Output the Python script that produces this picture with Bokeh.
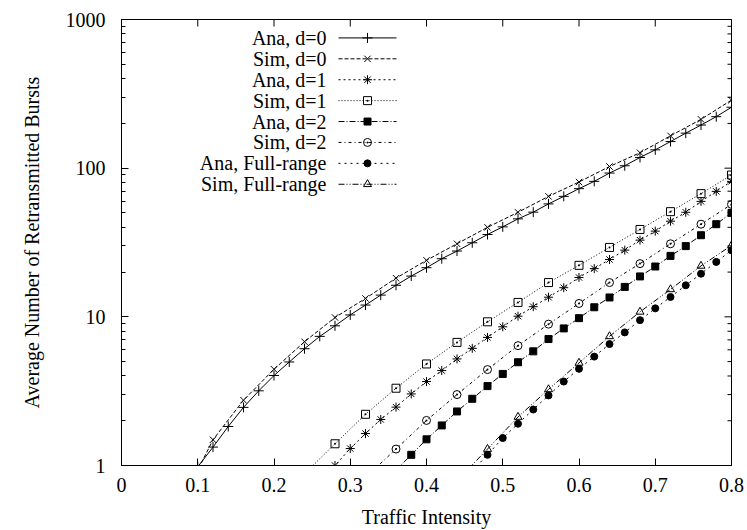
import math

from bokeh.core.properties import value
from bokeh.embed import file_html
from bokeh.models import FixedTicker, LogTicker, Range1d
from bokeh.plotting import figure
from bokeh.resources import INLINE

# ---- data: average number of retransmitted bursts vs traffic intensity ----
x_ana_d0 = [0.10, 0.12, 0.14, 0.16, 0.18, 0.20, 0.22, 0.24, 0.26, 0.28, 0.30, 0.32,
            0.34, 0.36, 0.38, 0.40, 0.42, 0.44, 0.46, 0.48, 0.50, 0.52, 0.54, 0.56,
            0.58, 0.60, 0.62, 0.64, 0.66, 0.68, 0.70, 0.72, 0.74, 0.76, 0.78, 0.80]
y_ana_d0 = [0.98, 1.33, 1.83, 2.46, 3.18, 4.03, 4.97, 6.1, 7.39, 8.7, 10.3, 12.0,
            14.0, 16.3, 18.8, 21.4, 24.6, 27.7, 31.5, 35.8, 40.3, 45.6, 50.6, 57.5,
            64.6, 72.8, 81.5, 92.7, 103.8, 118, 132.8, 151, 172, 195, 222, 257]

x_sim_d0 = [0.08, 0.12, 0.16, 0.20, 0.24, 0.28, 0.32, 0.36, 0.40, 0.44, 0.48, 0.52,
            0.56, 0.60, 0.64, 0.68, 0.72, 0.76, 0.80]
y_sim_d0 = [0.58, 1.49, 2.75, 4.44, 6.8, 9.9, 13.3, 18.2, 24.0, 31.0, 40.0, 50.5,
            64.6, 80.7, 102.6, 127, 165, 213, 287]

x_ana_d1 = [0.26, 0.28, 0.30, 0.32, 0.34, 0.36, 0.38, 0.40, 0.42, 0.44, 0.46, 0.48,
            0.50, 0.52, 0.54, 0.56, 0.58, 0.60, 0.62, 0.64, 0.66, 0.68, 0.70, 0.72,
            0.74, 0.76, 0.78, 0.80]
y_ana_d1 = [0.78, 1.0, 1.30, 1.64, 2.04, 2.47, 3.03, 3.67, 4.35, 5.21, 6.14, 7.27,
            8.57, 10.1, 11.7, 13.55, 15.7, 18.4, 21.1, 24.3, 28.1, 32.8, 37.7, 44.0,
            50.5, 59.8, 69.8, 81.5]

x_sim_d1 = [0.24, 0.28, 0.32, 0.36, 0.40, 0.44, 0.48, 0.52, 0.56, 0.60, 0.64, 0.68,
            0.72, 0.76, 0.80]
y_sim_d1 = [0.88, 1.40, 2.21, 3.31, 4.82, 6.73, 9.26, 12.5, 17.0, 22.2, 29.3, 38.7,
            51.0, 67.4, 89.9]

x_ana_d2 = [0.36, 0.38, 0.40, 0.42, 0.44, 0.46, 0.48, 0.50, 0.52, 0.54, 0.56, 0.58,
            0.60, 0.62, 0.64, 0.66, 0.68, 0.70, 0.72, 0.74, 0.76, 0.78, 0.80]
y_ana_d2 = [0.93, 1.18, 1.50, 1.86, 2.31, 2.81, 3.42, 4.13, 4.95, 5.86, 7.09, 8.36,
            9.8, 11.6, 13.5, 15.9, 18.7, 21.8, 25.7, 29.9, 35.4, 42.0, 50.0]

x_sim_d2 = [0.32, 0.36, 0.40, 0.44, 0.48, 0.52, 0.56, 0.60, 0.64, 0.68, 0.72, 0.76, 0.80]
y_sim_d2 = [0.83, 1.29, 2.01, 3.0, 4.42, 6.4, 8.93, 12.3, 17.0, 22.8, 31.0, 42.0, 57.1]

x_ana_full = [0.46, 0.48, 0.50, 0.52, 0.54, 0.56, 0.58, 0.60, 0.62, 0.64, 0.66, 0.68,
              0.70, 0.72, 0.74, 0.76, 0.78, 0.80]
y_ana_full = [0.92, 1.18, 1.53, 1.91, 2.38, 2.96, 3.67, 4.47, 5.40, 6.56, 7.86, 9.5,
              11.4, 13.6, 16.3, 19.5, 23.4, 28.0]

x_sim_full = [0.44, 0.48, 0.52, 0.56, 0.60, 0.64, 0.68, 0.72, 0.76, 0.80]
y_sim_full = [0.79, 1.29, 2.12, 3.25, 4.9, 7.39, 10.8, 15.3, 22.0, 30.2]

x_ticks = [0, 0.1, 0.2, 0.3, 0.4, 0.5, 0.6, 0.7, 0.8]
x_tick_labels = ["0", "0.1", "0.2", "0.3", "0.4", "0.5", "0.6", "0.7", "0.8"]
y_ticks = [1, 10, 100, 1000]
y_tick_labels = ["1", "10", "100", "1000"]
y_minor_ticks = [m * d for d in (1, 10, 100) for m in range(2, 10)]

# (label, x, y, line dash, marker, marker size, filled)
series = [
    ("Ana, d=0", x_ana_d0, y_ana_d0, "solid", "cross", 10, False),
    ("Sim, d=0", x_sim_d0, y_sim_d0, "4 2", "x", 9, False),
    ("Ana, d=1", x_ana_d1, y_ana_d1, "2 3", "asterisk", 9, False),
    ("Sim, d=1", x_sim_d1, y_sim_d1, "1 2", "square_dot", 8, False),
    ("Ana, d=2", x_ana_d2, y_ana_d2, "6 2 1 2", "square", 7, True),
    ("Sim, d=2", x_sim_d2, y_sim_d2, "3 3 1 3", "circle_dot", 8, False),
    ("Ana, Full-range", x_ana_full, y_ana_full, "2 4", "circle", 7, True),
    ("Sim, Full-range", x_sim_full, y_sim_full, "6 2 1 2 1 2", "triangle", 8, False),
]

FONT = "Liberation Serif"
W, H = 747, 530
BORDER_L, BORDER_R, BORDER_T, BORDER_B = 121, 16, 19, 63
X0, X1 = 0.0, 0.8
Y0, Y1 = 1.0, 1000.0
MAJOR_TICK, MINOR_TICK = 7, 4

p = figure(
    width=W, height=H,
    x_range=Range1d(X0, X1), y_range=Range1d(Y0, Y1),
    y_axis_type="log",
    output_backend="svg", toolbar_location=None,
    min_border_left=BORDER_L, min_border_right=BORDER_R,
    min_border_top=BORDER_T, min_border_bottom=BORDER_B,
)
p.background_fill_color = "white"
p.border_fill_color = "white"
p.outline_line_color = "black"
p.outline_line_width = 1
p.xgrid.visible = False
p.ygrid.visible = False


def style_axis(ax):
    ax.axis_line_color = "black"
    ax.major_tick_line_color = "black"
    ax.minor_tick_line_color = "black"
    ax.major_tick_in = MAJOR_TICK
    ax.major_tick_out = 0
    ax.minor_tick_in = MINOR_TICK
    ax.minor_tick_out = 0
    ax.major_label_text_font = FONT
    ax.major_label_text_font_size = "20px"
    ax.major_label_text_color = "black"
    ax.axis_label_text_font = FONT
    ax.axis_label_text_font_size = "20px"
    ax.axis_label_text_font_style = "normal"
    ax.axis_label_text_color = "black"


xax = p.xaxis[0]
xax.ticker = FixedTicker(ticks=x_ticks)
xax.major_label_overrides = dict(zip(x_ticks, x_tick_labels))
xax.axis_label = "Traffic Intensity"
style_axis(xax)
xax.major_label_standoff = 12
xax.axis_label_standoff = 11

yax = p.yaxis[0]
yax.ticker = LogTicker(mantissas=[1], num_minor_ticks=10)
yax.major_label_overrides = dict(zip(y_ticks, y_tick_labels))
yax.axis_label = "Average Number of Retransmitted Bursts"
style_axis(yax)
yax.major_label_standoff = 16
yax.axis_label_standoff = 20

# mirrored ticks on the top and right edges: dashes centred on the border,
# the outer half falls outside the frame and is clipped away
p.scatter(x_ticks, [Y1] * len(x_ticks), marker="dash", angle=math.pi / 2,
          size=2 * MAJOR_TICK, line_color="black", line_width=1)
p.scatter([X1] * len(y_ticks), y_ticks, marker="dash",
          size=2 * MAJOR_TICK, line_color="black", line_width=1)
p.scatter([X1] * len(y_minor_ticks), y_minor_ticks, marker="dash",
          size=2 * MINOR_TICK, line_color="black", line_width=1)

for label, xs, ys, dash, marker, size, filled in series:
    p.line(xs, ys, line_color="black", line_width=1, line_dash=dash)
    p.scatter(xs, ys, marker=marker, size=size, line_color="black", line_width=1,
              fill_color="black" if filled else None)

# key in the upper left: text on the left, line sample and marker on the right
frame_w = W - BORDER_L - BORDER_R
frame_h = H - BORDER_T - BORDER_B


def at_x(px):
    return X0 + (px - BORDER_L) / frame_w * (X1 - X0)


def at_y(py):
    frac = (py - BORDER_T) / frame_h
    return 10 ** (math.log10(Y1) - frac * (math.log10(Y1) - math.log10(Y0)))


KEY_TEXT_PX, KEY_LINE_PX0, KEY_LINE_PX1 = 326, 338, 396
KEY_ROW0, KEY_ROW_STEP = 37.5, 21.0
for i, (label, xs, ys, dash, marker, size, filled) in enumerate(series):
    ky = at_y(KEY_ROW0 + i * KEY_ROW_STEP)
    p.text([at_x(KEY_TEXT_PX)], [ky], text=[label], text_font=value(FONT),
           text_font_size=value("20px"), text_align="right", text_baseline="middle",
           text_color="black")
    p.line([at_x(KEY_LINE_PX0), at_x(KEY_LINE_PX1)], [ky, ky], line_color="black",
           line_width=1, line_dash=dash)
    p.scatter([at_x((KEY_LINE_PX0 + KEY_LINE_PX1) / 2)], [ky], marker=marker, size=size,
              line_color="black", line_width=1, fill_color="black" if filled else None)

open("out.html", "w").write(file_html(p, INLINE))
